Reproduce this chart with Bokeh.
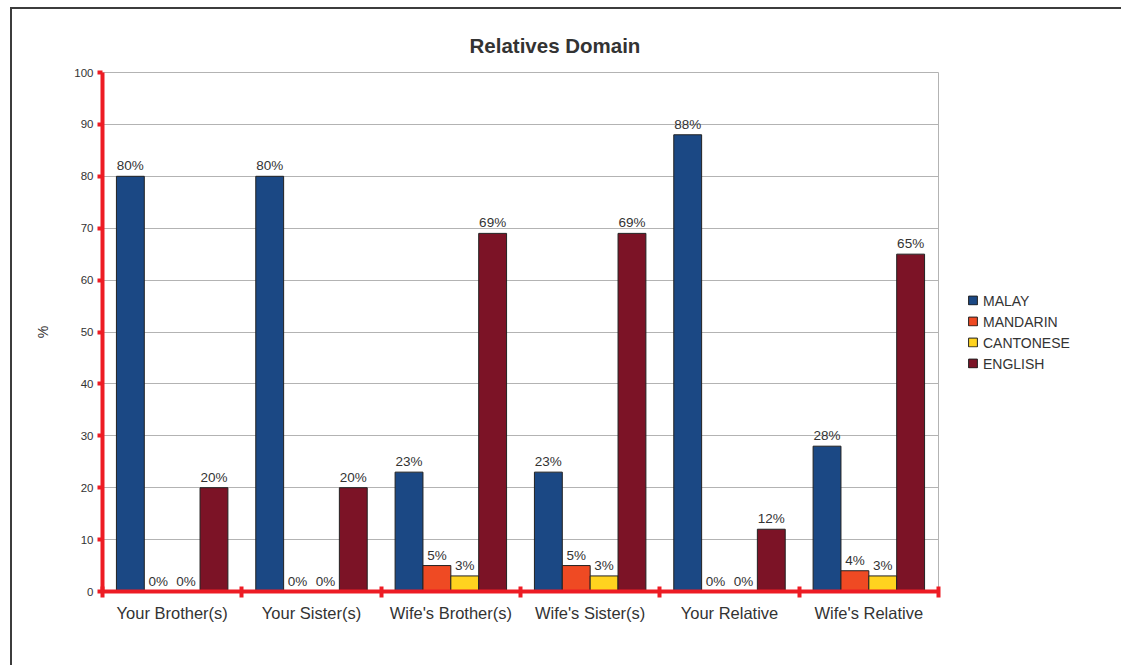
from bokeh.plotting import figure
from bokeh.models import (Range1d, LinearAxis, FixedTicker, ColumnDataSource,
                          Legend, LegendItem)
from bokeh.core.properties import value
from bokeh.embed import file_html
from bokeh.resources import INLINE

# Share of respondents (%) using each language with relatives
relatives = ["Your Brother(s)", "Your Sister(s)", "Wife's Brother(s)",
             "Wife's Sister(s)", "Your Relative", "Wife's Relative"]
languages = ["MALAY", "MANDARIN", "CANTONESE", "ENGLISH"]
malay = [80, 80, 23, 23, 88, 28]
mandarin = [0, 0, 5, 5, 0, 4]
cantonese = [0, 0, 3, 3, 0, 3]
english = [20, 20, 69, 69, 12, 65]
y_ticks = [0, 10, 20, 30, 40, 50, 60, 70, 80, 90, 100]

colors = ["#1b4884", "#ef4a23", "#ffd31f", "#7c1326"]
offsets = [-0.3, -0.1, 0.1, 0.3]
RED = "#ed1c24"
FONT = "Liberation Sans"
TXT = "#333333"

n = len(relatives)
centers = [i + 0.5 for i in range(n)]
series = {"MALAY": malay, "MANDARIN": mandarin, "CANTONESE": cantonese, "ENGLISH": english}

p = figure(frame_width=836, frame_height=519,
           x_range=Range1d(0, n), y_range=Range1d(0, 100),
           x_axis_location=None, output_backend="svg", toolbar_location=None,
           min_border_left=90, min_border_right=182, min_border_top=63,
           min_border_bottom=74)
p.margin = (7, 0, 0, 10)
p.styles = {"border-top": "2px solid #3c3c3c", "border-left": "2px solid #3c3c3c"}

p.title.text = "Relatives Domain"
p.title.align = "left"
p.title.offset = 367
p.title.standoff = 31
p.title.text_font = FONT
p.title.text_font_size = "20.5px"
p.title.text_font_style = "bold"
p.title.text_color = TXT

p.outline_line_color = "#b3b3b3"
p.outline_line_width = 1
p.background_fill_color = "white"
p.border_fill_color = "white"
p.xgrid.visible = False

# y axis
yax = p.yaxis[0]
yax.ticker = FixedTicker(ticks=y_ticks)
yax.axis_line_color = RED
yax.axis_line_width = 4
yax.major_tick_line_color = RED
yax.major_tick_line_width = 4
yax.major_tick_in = 0
yax.major_tick_out = 5
yax.minor_tick_line_color = None
yax.major_label_text_font = FONT
yax.major_label_text_font_size = "11.5px"
yax.major_label_text_color = TXT
yax.major_label_standoff = 4
yax.axis_label = "%"
yax.axis_label_text_font = FONT
yax.axis_label_text_font_size = "14px"
yax.axis_label_text_font_style = "normal"
yax.axis_label_text_color = TXT
yax.axis_label_standoff = 20

p.ygrid.ticker = FixedTicker(ticks=y_ticks)
p.ygrid.grid_line_color = "#b3b3b3"
p.ygrid.grid_line_width = 1

# red baseline with ticks at the group boundaries
edges = list(range(n + 1))
edge_axis = LinearAxis(ticker=FixedTicker(ticks=edges))
edge_axis.axis_line_color = RED
edge_axis.axis_line_width = 4
edge_axis.major_tick_line_color = RED
edge_axis.major_tick_line_width = 4
edge_axis.major_tick_in = 5
edge_axis.major_tick_out = 6
edge_axis.minor_tick_line_color = None
edge_axis.major_label_text_font_size = "0px"
edge_axis.major_label_standoff = 0
edge_axis.major_label_overrides = {e: "" for e in edges}
p.add_layout(edge_axis, "below")

# group names under each cluster
cat_axis = LinearAxis(ticker=FixedTicker(ticks=centers))
cat_axis.major_label_overrides = {c: name for c, name in zip(centers, relatives)}
cat_axis.axis_line_color = None
cat_axis.major_tick_line_color = None
cat_axis.minor_tick_line_color = None
cat_axis.major_tick_out = 0
cat_axis.major_tick_in = 0
cat_axis.major_label_standoff = 6
cat_axis.major_label_text_font = FONT
cat_axis.major_label_text_font_size = "16.5px"
cat_axis.major_label_text_color = TXT
p.add_layout(cat_axis, "below")

items = []
for lang, off, col in zip(languages, offsets, colors):
    vals = series[lang]
    src = ColumnDataSource(dict(x=[c + off for c in centers], top=vals,
                                lbl=[f"{v}%" for v in vals]))
    r = p.vbar(x="x", top="top", width=0.2, source=src,
               fill_color=col, line_color="#222222", line_width=1)
    p.text(x="x", y="top", text="lbl", source=src,
           text_align="center", text_baseline="bottom", y_offset=-3,
           text_font=value(FONT), text_font_size="13.5px", text_color=TXT)
    items.append(LegendItem(label=lang, renderers=[r]))

legend = Legend(items=items, location="center_left")
legend.glyph_width = 11
legend.glyph_height = 11
legend.label_standoff = 5
legend.label_height = 20
legend.spacing = 1
legend.padding = 0
legend.margin = 29
legend.border_line_color = None
legend.background_fill_alpha = 0
legend.label_text_font = FONT
legend.label_text_font_size = "14px"
legend.label_text_color = TXT
p.add_layout(legend, "right")

with open("out.html", "w") as f:
    f.write(file_html(p, INLINE))
